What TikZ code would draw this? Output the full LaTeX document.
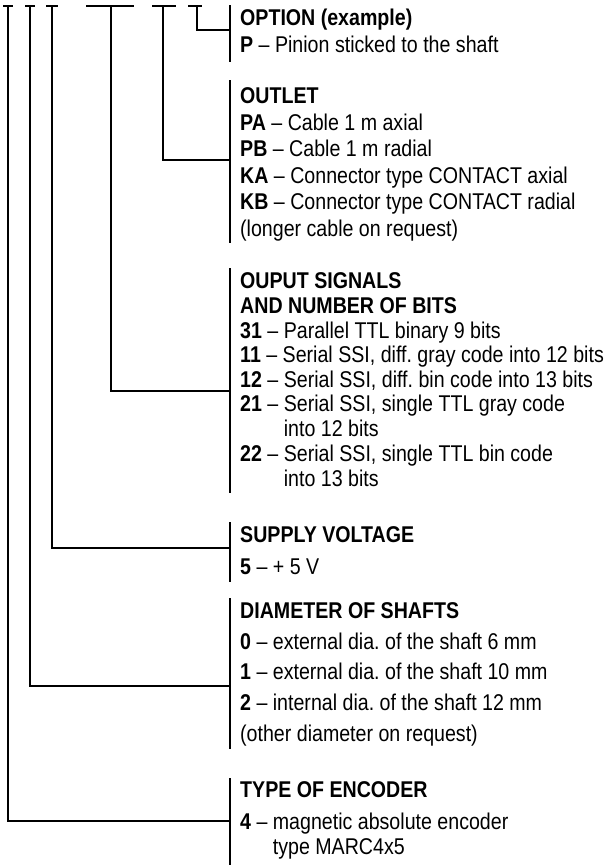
\documentclass[tikz,border=0pt]{standalone}
\usepackage{fontspec}
\setmainfont{Liberation Sans}[FakeStretch=0.86]
\frenchspacing
\begin{document}
\begin{tikzpicture}[x=1pt,y=-1pt,
  txt/.style={anchor=base west, inner sep=0pt, font=\fontsize{22.8}{24}\selectfont},
  conn/.style={line width=2.3pt},
  brk/.style={line width=2.6pt},
  bar/.style={line width=2.3pt}]
\useasboundingbox (0,0) rectangle (606,865);
% code position marks (top bars) and their feet
\coordinate (c1) at (8,6);   \coordinate (c2) at (30,6);  \coordinate (c3) at (52,6);
\coordinate (c4) at (111,6); \coordinate (c5) at (163,6); \coordinate (c6) at (197,6);
\draw[bar] (3,6) -- (13,6);
\draw[bar] (25,6) -- (35,6);
\draw[bar] (46,6) -- (58,6);
\draw[bar] (86,6) -- (134,6);
\draw[bar] (152,6) -- (176,6);
\draw[bar] (188,6) -- (202,6);
% junctions on the brackets
\coordinate (jopt) at (230,30);
\coordinate (jout) at (230,160);
\coordinate (jsig) at (230,391);
\coordinate (jsup) at (230,548);
\coordinate (jdia) at (230,686);
\coordinate (jtyp) at (230,821);
% connectors
\draw[conn] (c6) |- (jopt);
\draw[conn] (c5) |- (jout);
\draw[conn] (c4) |- (jsig);
\draw[conn] (c3) |- (jsup);
\draw[conn] (c2) |- (jdia);
\draw[conn] (c1) |- (jtyp);
% brackets
\draw[brk] (230,5) -- (230,62);
\draw[brk] (230,80) -- (230,243);
\draw[brk] (230,268) -- (230,493);
\draw[brk] (230,522) -- (230,582);
\draw[brk] (230,598) -- (230,749);
\draw[brk] (230,778) -- (230,865);
% texts
\node[txt] (o0) at (240,25) {\textbf{OPTION (example)}};
\node[txt] (o1) at (240,52) {\textbf{P} – Pinion sticked to the shaft};

\node[txt] (u0) at (240,103) {\textbf{OUTLET}};
\node[txt] (u1) at (240,130) {\textbf{PA} – Cable 1 m axial};
\node[txt] (u2) at (240,156) {\textbf{PB} – Cable 1 m radial};
\node[txt] (u3) at (240,183) {\textbf{KA} – Connector type CONTACT axial};
\node[txt] (u4) at (240,209) {\textbf{KB} – Connector type CONTACT radial};
\node[txt] (u5) at (240,236) {(longer cable on request)};

\node[txt] (s0) at (240,288) {\textbf{OUPUT SIGNALS}};
\node[txt] (s1) at (240,313) {\textbf{AND NUMBER OF BITS}};
\node[txt] (s2) at (240,338) {\textbf{31} – Parallel TTL binary 9 bits};
\node[txt] (s3) at (240,362) {\textbf{11} – Serial SSI, diff. gray code into 12 bits};
\node[txt] (s4) at (240,387) {\textbf{12} – Serial SSI, diff. bin code into 13 bits};
\node[txt] (s5) at (240,411) {\textbf{21} – Serial SSI, single TTL gray code};
\node[txt] (s6) at (240,436) {\phantom{\textbf{21} – }into 12 bits};
\node[txt] (s7) at (240,461) {\textbf{22} – Serial SSI, single TTL bin code};
\node[txt] (s8) at (240,486) {\phantom{\textbf{22} – }into 13 bits};

\node[txt] (v0) at (240,542) {\textbf{SUPPLY VOLTAGE}};
\node[txt] (v1) at (240,574) {\textbf{5} –  + 5 V};

\node[txt] (d0) at (240,618) {\textbf{DIAMETER OF SHAFTS}};
\node[txt] (d1) at (240,649) {\textbf{0} – external dia. of the shaft 6 mm};
\node[txt] (d2) at (240,679) {\textbf{1} – external dia. of the shaft 10 mm};
\node[txt] (d3) at (240,710) {\textbf{2} – internal dia. of the shaft 12 mm};
\node[txt] (d4) at (240,741) {(other diameter on request)};

\node[txt] (e0) at (240,797) {\textbf{TYPE OF ENCODER}};
\node[txt] (e1) at (240,829) {\textbf{4} – magnetic absolute encoder};
\node[txt] (e2) at (240,854) {\phantom{\textbf{4} – }type MARC4x5};
\end{tikzpicture}
\end{document}
